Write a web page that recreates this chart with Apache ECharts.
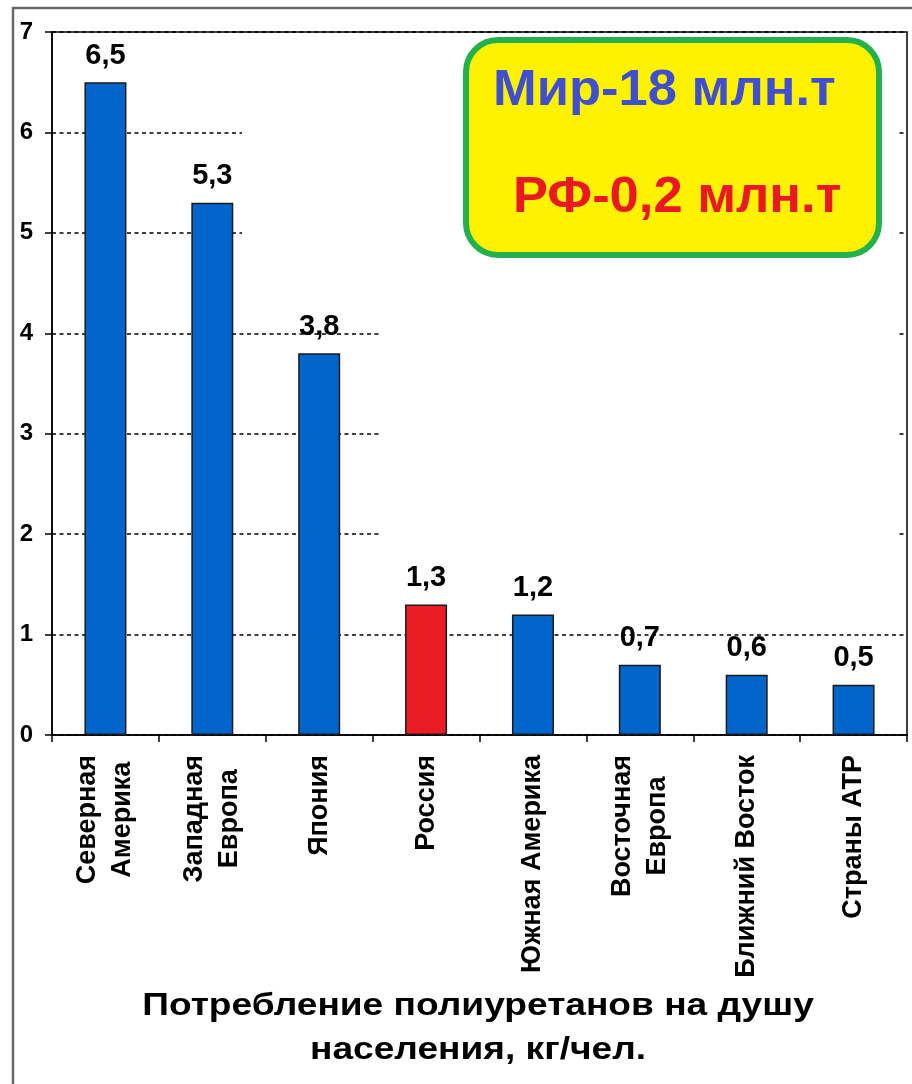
<!DOCTYPE html>
<html>
<head>
<meta charset="utf-8">
<script src="https://cdn.jsdelivr.net/npm/echarts@6/dist/echarts.min.js"></script>
<style>
    html, body { margin: 0; padding: 0; background: #fff; }
    #chart { width: 912px; height: 1084px; }
</style>
</head>
<body>
<div id="chart"></div>
<script>
let categories = ['Северная\nАмерика', 'Западная\nЕвропа', 'Япония', 'Россия',
                  'Южная Америка', 'Восточная\nЕвропа', 'Ближний Восток', 'Страны АТР'];
let values     = [6.5, 5.3, 3.8, 1.3, 1.2, 0.7, 0.6, 0.5];
let highlight  = 'Россия';
let noteLines  = ['Мир-18 млн.т', 'РФ-0,2 млн.т'];
let titleLines = ['Потребление полиуретанов на душу', 'населения, кг/чел.'];

let font  = '"Liberation Sans", Arial, sans-serif';
let blue  = '#0066cc';
let red   = '#ec1c24';

let barData = [];
for(let i = 0; i < values.length; i++){
    barData.push({
        value: values[i],
        itemStyle: { color: categories[i] === highlight ? red : blue }
    });
}

let chart = echarts.init(document.getElementById('chart'));

let option = {
    animation: false,
    backgroundColor: '#fff',
    grid: {
        left: 52, right: 5, top: 32, bottom: 349,
        show: true, borderColor: '#000', borderWidth: 1.5
    },
    xAxis: {
        type: 'category',
        data: categories,
        axisLine: { lineStyle: { color: '#000', width: 1.5 } },
        axisTick: { show: true, length: 7, lineStyle: { color: '#000', width: 1.5 } },
        axisLabel: {
            rotate: 90,
            margin: 20,
            interval: 0,
            color: '#000',
            fontFamily: font,
            fontWeight: 'bold',
            fontSize: 27,
            lineHeight: 35,
            // centre each line of a two-line label
            formatter: function(v){
                return v.split('\n').map(function(s){ return '{c|' + s + '}'; }).join('\n');
            },
            rich: {
                c: { align: 'center', fontFamily: font, fontWeight: 'bold', fontSize: 27, lineHeight: 35, color: '#000' }
            }
        }
    },
    yAxis: {
        type: 'value',
        min: 0, max: 7, interval: 1,
        axisLine: { show: true, lineStyle: { color: '#000', width: 1.5 } },
        axisTick: { show: true, length: 7, lineStyle: { color: '#000', width: 1.5 } },
        axisLabel: { margin: 19, color: '#000', fontFamily: font, fontWeight: 'bold', fontSize: 24 },
        splitLine: { show: true, lineStyle: { color: '#000', width: 1.5, type: [4, 3.5] } }
    },
    series: [{
        type: 'bar',
        data: barData,
        barWidth: 42,
        itemStyle: { borderColor: '#1a1a1a', borderWidth: 1.5 },
        label: {
            show: true,
            position: 'top',
            distance: 12,
            color: '#000',
            fontFamily: font,
            fontWeight: 'bold',
            fontSize: 29,
            formatter: function(p){ return String(p.value).replace('.', ','); }
        }
    }],
    graphic: [
        // outer frame of the picture
        { type: 'rect', z: 10, silent: true,
          shape: { x: 13, y: 8, width: 1000, height: 1200 },
          style: { fill: 'none', stroke: '#6a6a6a', lineWidth: 2.5 } },
        // gridlines are hidden behind these, as in the source
        { type: 'rect', z: 1, silent: true,
          shape: { x: 242, y: 34, width: 656, height: 266 },
          style: { fill: '#fff' } },
        { type: 'rect', z: 1, silent: true,
          shape: { x: 380, y: 300, width: 518, height: 300 },
          style: { fill: '#fff' } },
        // note box
        { type: 'rect', z: 10, silent: true,
          shape: { x: 466, y: 40, width: 413, height: 215, r: 32 },
          style: { fill: '#fff200', stroke: '#22b14c', lineWidth: 6 } },
        { type: 'text', z: 11, silent: true, x: 493, y: 66, scaleX: 1.05,
          style: { text: noteLines[0], fill: '#3f4fd0', font: 'bold 50px ' + font } },
        { type: 'text', z: 11, silent: true, x: 513, y: 173, scaleX: 1.05,
          style: { text: noteLines[1], fill: '#ea1821', font: 'bold 50px ' + font } },
        // axis title under the chart
        { type: 'text', z: 11, silent: true, x: 478, y: 990, scaleX: 1.16,
          style: { text: titleLines[0], fill: '#000', font: 'bold 32px ' + font, align: 'center' } },
        { type: 'text', z: 11, silent: true, x: 478, y: 1034, scaleX: 1.16,
          style: { text: titleLines[1], fill: '#000', font: 'bold 32px ' + font, align: 'center' } }
    ]
};

chart.setOption(option);
</script>
</body>
</html>
